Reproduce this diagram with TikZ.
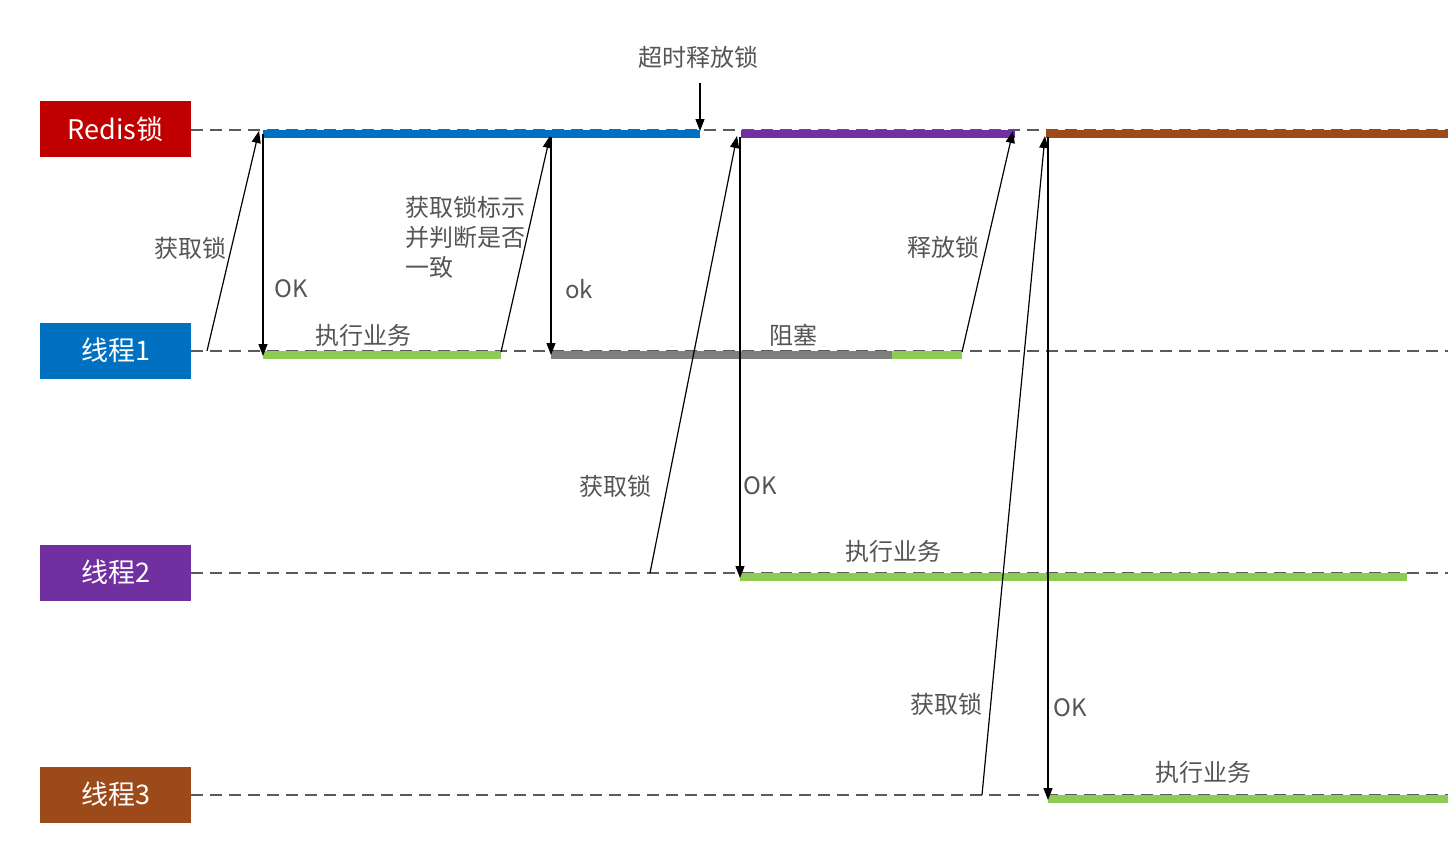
\documentclass[tikz,border=0pt]{standalone}
\usepackage{fontspec}
\setmainfont{Noto Sans CJK SC}
\usetikzlibrary{arrows.meta}
\definecolor{redisred}{HTML}{C00000}
\definecolor{tblue}{HTML}{0070C0}
\definecolor{tpurple}{HTML}{7030A0}
\definecolor{tbrown}{HTML}{9C4A1A}
\definecolor{tgreen}{HTML}{8DCB55}
\definecolor{tgray}{HTML}{7F7F7F}
\definecolor{lanegray}{HTML}{5A5A5A}
\definecolor{labelgray}{HTML}{555555}
\tikzset{
  lanebox/.style={minimum width=151pt, minimum height=56pt, inner sep=0pt, text=white, font=\fontsize{27}{32}\selectfont},
  laneline/.style={lanegray, line width=1.4pt, dash pattern=on 12pt off 7pt},
  bar/.style={line width=8pt},
  msg/.style={black, line width=1.2pt, -{Triangle[length=12pt,width=9pt]}},
  lbl/.style={text=labelgray, inner sep=1pt, font=\fontsize{24}{30}\selectfont},
}
\begin{document}
\begin{tikzpicture}[x=1pt,y=-1pt]
\useasboundingbox (0,0) rectangle (1448,843);
\fill[white] (0,0) rectangle (1448,843);

% lane boxes
\node[lanebox, fill=redisred] (redis) at (115.5,129) {Redis锁};
\node[lanebox, fill=tblue] (t1) at (115.5,350.5) {线程1};
\node[lanebox, fill=tpurple] (t2) at (115.5,572.5) {线程2};
\node[lanebox, fill=tbrown] (t3) at (115.5,794.5) {线程3};

% lane ends
\coordinate (rE) at (1448,130);
\coordinate (t1E) at (1448,351);
\coordinate (t2E) at (1448,573);
\coordinate (t3E) at (1448,795);

\draw[laneline] (redis.east |- rE) -- (rE);
\draw[laneline] (t1.east |- t1E) -- (t1E);
\draw[laneline] (t2.east |- t2E) -- (t2E);
\draw[laneline] (t3.east |- t3E) -- (t3E);

% bars
\coordinate (rb1s) at (263,134); \coordinate (rb1e) at (700,134);
\coordinate (rb2s) at (741,134); \coordinate (rb2e) at (1015,134);
\coordinate (rb3s) at (1046,134); \coordinate (rb3e) at (1448,134);
\draw[bar, tblue] (rb1s) -- (rb1e);
\draw[bar, tpurple] (rb2s) -- (rb2e);
\draw[bar, tbrown] (rb3s) -- (rb3e);

\coordinate (g1s) at (263,355); \coordinate (g1e) at (501,355);
\coordinate (b1s) at (551,355); \coordinate (b1e) at (892,355);
\coordinate (g2e) at (962,355);
\draw[bar, tgreen] (g1s) -- (g1e);
\draw[bar, tgray] (b1s) -- (b1e);
\draw[bar, tgreen] (b1e) -- (g2e);

\coordinate (g3s) at (740,577); \coordinate (g3e) at (1407,577);
\draw[bar, tgreen] (g3s) -- (g3e);
\coordinate (g4s) at (1048,799); \coordinate (g4e) at (1448,799);
\draw[bar, tgreen] (g4s) -- (g4e);

% message arrows
\coordinate (a1s) at (207,351); \coordinate (a1e) at (259,131);
\coordinate (o1s) at (263,134); \coordinate (o1e) at (263,356);
\coordinate (a2s) at (501,352); \coordinate (a2e) at (550,136);
\coordinate (o2s) at (551,137); \coordinate (o2e) at (551,355);
\coordinate (tos) at (700,83);  \coordinate (toe) at (700,131);
\coordinate (a3s) at (650,573); \coordinate (a3e) at (737,136);
\coordinate (o3s) at (740,137); \coordinate (o3e) at (740,578);
\coordinate (a4s) at (962,352); \coordinate (a4e) at (1013,131);
\coordinate (a5s) at (982,795); \coordinate (a5e) at (1045,136);
\coordinate (o5s) at (1048,137); \coordinate (o5e) at (1048,800);

\draw[msg] (a1s) -- (a1e);
\draw[msg] (o1s) -- (o1e);
\draw[msg] (a2s) -- (a2e);
\draw[msg] (o2s) -- (o2e);
\draw[msg] (tos) -- (toe);
\draw[msg] (a3s) -- (a3e);
\draw[msg] (o3s) -- (o3e);
\draw[msg] (a4s) -- (a4e);
\draw[msg] (a5s) -- (a5e);
\draw[msg] (o5s) -- (o5e);

% labels
\node[lbl] (l1) at (190,248) {获取锁};
\node[lbl] (l2) at (291,289) {OK};
\node[lbl, anchor=west, align=left] (l3) at (404,237) {获取锁标示\\并判断是否\\一致};
\node[lbl] (l4) at (579,289) {ok};
\node[lbl] (l5) at (698,57) {超时释放锁};
\node[lbl] (l6) at (363,335) {执行业务};
\node[lbl] (l7) at (793,335) {阻塞};
\node[lbl] (l8) at (943,247) {释放锁};
\node[lbl] (l9) at (615,486) {获取锁};
\node[lbl] (l10) at (760,486) {OK};
\node[lbl] (l11) at (893,551) {执行业务};
\node[lbl] (l12) at (946,704) {获取锁};
\node[lbl] (l13) at (1070,708) {OK};
\node[lbl] (l14) at (1203,772) {执行业务};
\end{tikzpicture}
\end{document}
